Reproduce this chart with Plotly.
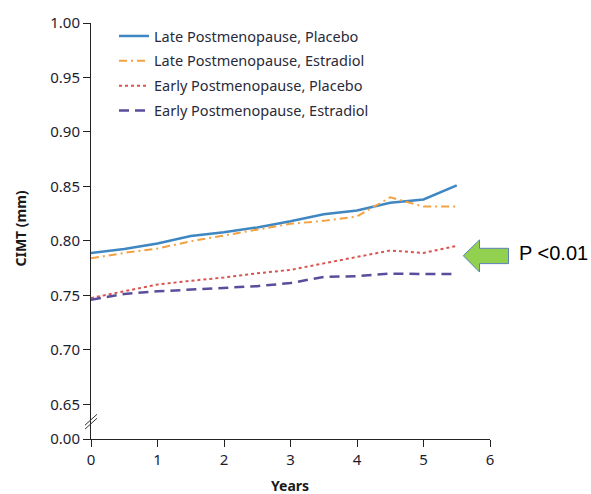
import plotly.graph_objects as go

years = [0, 0.5, 1, 1.5, 2, 2.5, 3, 3.5, 4, 4.5, 5, 5.5]
late_placebo = [0.789, 0.7925, 0.7976, 0.8045, 0.808, 0.8124, 0.818, 0.8245, 0.828, 0.835, 0.838, 0.851]
late_estradiol = [0.784, 0.789, 0.793, 0.7997, 0.805, 0.8106, 0.8157, 0.8184, 0.8224, 0.840, 0.8315, 0.8315]
early_placebo = [0.7476, 0.7537, 0.760, 0.7634, 0.7664, 0.7703, 0.7734, 0.7794, 0.7855, 0.7912, 0.789, 0.7955]
early_estradiol = [0.746, 0.7513, 0.7537, 0.7553, 0.7567, 0.7585, 0.7613, 0.767, 0.7676, 0.770, 0.7696, 0.7696]

series_names = ["Late Postmenopause, Placebo", "Late Postmenopause, Estradiol",
                "Early Postmenopause, Placebo", "Early Postmenopause, Estradiol"]
series_vals = [late_placebo, late_estradiol, early_placebo, early_estradiol]

# y axis break: "0.00" is drawn just below 0.65
break_pos = 0.6182
ytick_vals = [break_pos, 0.65, 0.70, 0.75, 0.80, 0.85, 0.90, 0.95, 1.00]
ytick_text = ["0.00", "0.65", "0.70", "0.75", "0.80", "0.85", "0.90", "0.95", "1.00"]
xtick_vals = [0, 1, 2, 3, 4, 5, 6]

colors = ["#3f87c2", "#f4a142", "#d9534f", "#5a4e9c"]
dashes = ["solid", "8px,4px,2px,4px", "dot", "10px,6px"]
widths = [2.5, 2, 2, 2.5]

fig = go.Figure()
for i, (n, v) in enumerate(zip(series_names, series_vals)):
    fig.add_trace(go.Scatter(x=years, y=v, mode="lines", name=n, legendgroup=str(i),
                             line=dict(color=colors[i], dash=dashes[i], width=widths[i])))

W, H = 591, 494
L, R, T, B = 91, 101, 18, 55
pw, ph = W - L - R, H - T - B

def px(x):
    return (x - L) / pw

def py(y):
    return (H - B - y) / ph

# arrow shape (annotation graphic)
pts = [(463.3, 253.5), (479.5, 237.5), (479.5, 246), (508.5, 246), (508.5, 261.5), (479.5, 261.5), (479.5, 270)]
path = "M " + " L ".join(f"{px(a):.4f},{py(b):.4f}" for a, b in pts) + " Z"

shapes = [
    dict(type="path", path=path, xref="paper", yref="paper", fillcolor="#92d050",
         line=dict(color="#5b7fb8", width=1)),
    dict(type="line", xref="paper", yref="paper", x0=px(85), y0=py(425), x1=px(97), y1=py(414),
         line=dict(color="#333333", width=1)),
    dict(type="line", xref="paper", yref="paper", x0=px(85), y0=py(429), x1=px(97), y1=py(418),
         line=dict(color="#333333", width=1)),
]

annotations = [
    dict(text="P <0.01", xref="paper", yref="paper", x=px(517), y=py(251), xanchor="left",
         yanchor="middle", showarrow=False, font=dict(family="Liberation Sans", size=20, color="#000000")),
    dict(text="<b>CIMT (mm)</b>", xref="paper", yref="paper", x=px(21), y=py(226), textangle=-90,
         xanchor="center", yanchor="middle", showarrow=False,
         font=dict(family="Noto Sans", size=14, color="#1a1a1a")),
    dict(text="<b>Years</b>", xref="paper", yref="paper", x=px(290), y=py(486), xanchor="center",
         yanchor="middle", showarrow=False, font=dict(family="Noto Sans", size=14, color="#1a1a1a")),
]

fig.update_layout(
    width=W, height=H, margin=dict(l=L, r=R, t=T, b=B, pad=0),
    paper_bgcolor="white", plot_bgcolor="white",
    font=dict(family="Noto Sans", size=15, color="#1c1c30"),
    showlegend=True,
    legend=dict(x=px(114), y=py(15), xanchor="left", yanchor="top", bgcolor="rgba(0,0,0,0)",
                font=dict(family="Noto Sans", size=14.5, color="#2a2a3a"), tracegroupgap=3),
    xaxis=dict(range=[0, 6], tickvals=xtick_vals, showgrid=False, zeroline=False, showline=True,
               linecolor="#222222", linewidth=1, ticks="outside", ticklen=7, tickcolor="#222222"),
    yaxis=dict(range=[break_pos, 1.0], tickvals=ytick_vals, ticktext=ytick_text, showgrid=False,
               zeroline=False, showline=True, linecolor="#222222", linewidth=1, ticks="outside",
               ticklen=7, tickcolor="#222222"),
    shapes=shapes, annotations=annotations,
)

fig.write_html("out.html")
